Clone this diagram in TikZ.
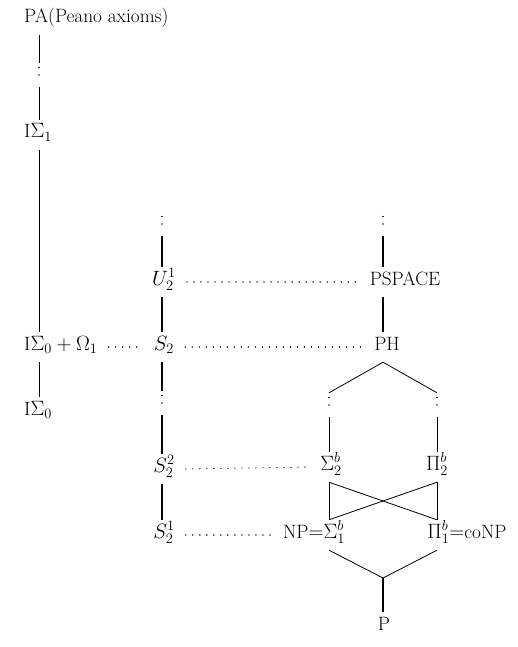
\documentclass[tikz,border=0pt]{standalone}
\tikzset{
  lbl/.style={font=\fontsize{19.3}{23}\selectfont, inner xsep=7pt, inner ysep=7pt, text height=11pt, text depth=5pt, anchor=base},
  vdts/.style={inner sep=0pt, minimum height=24pt, minimum width=3pt,
    path picture={\draw[line width=1.4pt, line cap=round, dash pattern=on 0.01pt off 7.5pt, black]
      ([yshift=7.5pt]path picture bounding box.center) -- ([yshift=-7.5pt]path picture bounding box.center);}},
  ln/.style={line width=0.8pt},
  lnk/.style={line width=1.4pt},
  hdots/.style={line width=1.3pt, line cap=round, dash pattern=on 0.01pt off 7pt, black, shorten <=4pt, shorten >=5pt},
}
\begin{document}
\begin{tikzpicture}[x=1pt,y=-1pt]
\useasboundingbox (0,0) rectangle (517,647);
\coordinate (cL) at (39,0);
\coordinate (cM) at (162,0);
\coordinate (cR) at (383,0);
\coordinate (cRl) at (329,0);
\coordinate (cRr) at (437,0);
% left column
\node[lbl, anchor=base west] (pa) at (17,23) {PA(Peano axioms)};
\node[vdts] (dl) at (39,75) {};
\node[lbl, anchor=base west] (is1) at (17,138) {I$\Sigma_1$};
\node[lbl, anchor=base west] (is0o) at (17,350) {I$\Sigma_0+\Omega_1$};
\node[lbl, anchor=base west] (is0) at (17,415) {I$\Sigma_0$};
% middle column
\node[vdts] (dm1) at (162,224) {};
\node[lbl] (u21) at (164,285) {$U_2^1$};
\node[lbl] (s2) at (164,350) {$S_2$};
\node[vdts] (dm2) at (162,403) {};
\node[lbl] (s22) at (164,472) {$S_2^2$};
\node[lbl] (s21) at (164,538) {$S_2^1$};
% right column
\node[vdts] (dr1) at (383,224) {};
\node[lbl] (pspace) at (405,285) {PSPACE};
\node[lbl] (ph) at (387,350) {PH};
\node[vdts] (dRl) at (329,405) {};
\node[vdts] (dRr) at (437,405) {};
\node[lbl] (sig2) at (331,470) {$\Sigma_2^b$};
\node[lbl] (pi2) at (437,470) {$\Pi_2^b$};
\node[lbl] (np) at (314,538) {NP$=$$\Sigma_1^b$};
\node[lbl] (pi1) at (467,538) {$\Pi_1^b$$=$coNP};
\node[lbl] (p) at (384,630) {P};
\coordinate (pj) at (383,578);
% left connectors
\draw[ln] (pa.south -| cL) -- (dl.north);
\draw[ln] (dl.south) -- (is1.north -| cL);
\draw[ln] (is1.south -| cL) -- (is0o.north -| cL);
\draw[ln] (is0o.south -| cL) -- (is0.north -| cL);
% middle connectors
\draw[lnk] (dm1.south) -- (u21.north -| cM);
\draw[lnk] (u21.south -| cM) -- (s2.north -| cM);
\draw[lnk] (s2.south -| cM) -- (dm2.north);
\draw[lnk] (dm2.south) -- (s22.north -| cM);
\draw[lnk] (s22.south -| cM) -- (s21.north -| cM);
% right connectors
\draw[lnk] (dr1.south) -- (pspace.north -| cR);
\draw[lnk] (pspace.south -| cR) -- (ph.north -| cR);
\draw[ln] (ph.south -| cR) -- (dRl.north);
\draw[ln] (ph.south -| cR) -- (dRr.north);
\draw[ln] (dRl.south) -- (sig2.north -| cRl);
\draw[ln] (dRr.south) -- (pi2.north -| cRr);
\draw[ln] (sig2.south -| cRl) -- (np.north -| cRl);
\draw[ln] (sig2.south -| cRl) -- (pi1.north -| cRr);
\draw[ln] (pi2.south -| cRr) -- (np.north -| cRl);
\draw[ln] (pi2.south -| cRr) -- (pi1.north -| cRr);
\draw[ln] (np.south -| cRl) -- (pj) -- (pi1.south -| cRr);
\draw[lnk] (pj) -- (p.north -| cR);
% horizontal dotted
\draw[hdots] (is0o.east) -- (s2.west);
\draw[hdots] (u21.east) -- (pspace.west);
\draw[hdots] (s2.east) -- (ph.west);
\draw[hdots] (s22.east) -- (sig2.west);
\draw[hdots] (s21.east) -- (np.west);
\end{tikzpicture}
\end{document}
